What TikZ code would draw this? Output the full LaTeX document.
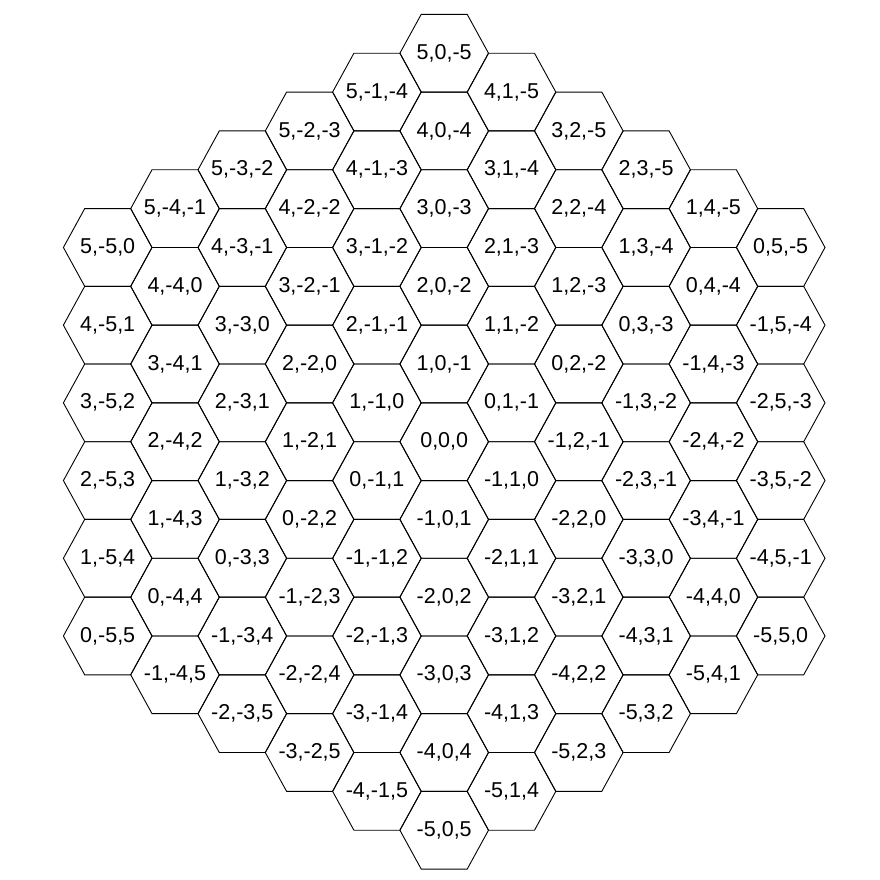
\documentclass[tikz,border=0pt]{standalone}
\usepackage{fontspec}
\setmainfont{Liberation Sans}
\begin{document}
\begin{tikzpicture}[x=1pt,y=1pt,
  hexline/.style={draw=black,line width=0.9pt,line join=miter},
  lbl/.style={font=\fontsize{21.5}{24}\selectfont,text=black,inner sep=0pt}]
\fill[white] (0,0) rectangle (880,-879);
\useasboundingbox (0,0) rectangle (880,-879);
\foreach \a in {-5,...,5}{
  \foreach \b in {-5,...,5}{
    \pgfmathtruncatemacro\c{-\a-\b}
    \ifnum\c<-5\relax\else\ifnum\c>5\relax\else
      \pgfmathsetmacro\cx{444.2+67.3*\b}
      \pgfmathsetmacro\cy{-(441.7-77.7*\a-38.85*\b)}
      \begin{scope}[shift={(\cx,\cy)}]
        \draw[hexline] (-44.3,0) -- (-23,38.85) -- (23,38.85) -- (44.3,0) -- (23,-38.85) -- (-23,-38.85) -- cycle;
        \node[lbl] (h\a\b) at (0,0) {\a,\b,\c};
      \end{scope}
    \fi\fi
  }
}
\end{tikzpicture}
\end{document}
